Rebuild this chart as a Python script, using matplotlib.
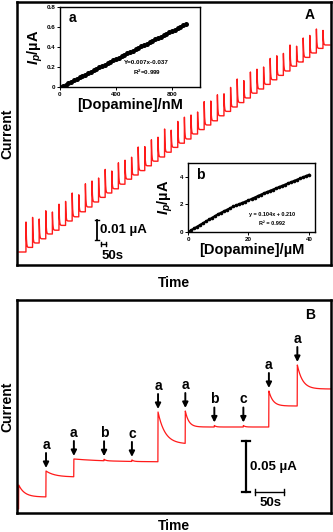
import numpy as np
import matplotlib
matplotlib.use("Agg")
import matplotlib.pyplot as plt

plt.rcParams['font.family'] = ['Liberation Sans', 'DejaVu Sans']
plt.rcParams['font.weight'] = 'bold'
plt.rcParams['axes.labelweight'] = 'bold'
plt.rcParams['mathtext.fontset'] = 'custom'
plt.rcParams['mathtext.it'] = 'Liberation Sans:bold:italic'
plt.rcParams['mathtext.rm'] = 'Liberation Sans:bold'

# ---- panel A: amperometric trace (current in nA) ----
base_nA = [6.5, 8.8, 11.0, 13.1, 15.5, 17.4, 19.8, 22.0, 24.1, 26.6, 29.0, 31.5,
           33.8, 36.0, 38.1, 40.4, 42.9, 45.0, 47.2, 49.6, 51.9, 54.0, 56.4, 58.8,
           60.9, 63.0, 65.5, 67.7, 70.0, 72.1, 74.6, 76.8, 79.0, 81.2, 83.5, 85.9,
           88.0, 90.3, 92.6, 94.8, 97.0, 99.4, 101.5, 103.8, 106.0, 108.3, 110.0]
spike_nA = [15, 15, 12, 14, 11, 13, 12, 14, 11, 14, 13, 12, 14, 11, 13, 12, 11, 14,
            12, 13, 12, 14, 11, 13, 13, 12, 11, 14, 12, 13, 11, 12, 14, 11, 13, 12,
            11, 13, 12, 11, 13, 10, 12, 11, 12, 9]
inject_start = 90   # s
inject_every = 66   # s

# inset a: low concentration calibration
conc_nM = [0, 20, 40, 60, 80, 100, 120, 140, 160, 180, 200, 220, 240, 260, 280, 300,
           320, 340, 360, 380, 400, 420, 440, 460, 480, 500, 520, 540, 560, 580, 600,
           620, 640, 660, 680, 700, 720, 740, 760, 780, 800, 820, 840, 860, 880, 900]
ip_a = [0.00, 0.01, 0.025, 0.04, 0.055, 0.07, 0.082, 0.097, 0.11, 0.125, 0.14, 0.153,
        0.168, 0.182, 0.196, 0.21, 0.224, 0.238, 0.252, 0.266, 0.28, 0.294, 0.308,
        0.322, 0.336, 0.35, 0.364, 0.378, 0.392, 0.406, 0.42, 0.434, 0.448, 0.462,
        0.476, 0.49, 0.504, 0.518, 0.532, 0.546, 0.56, 0.574, 0.588, 0.602, 0.616, 0.63]

# inset b: high concentration calibration
conc_uM = list(range(0, 41))
ip_b = [0.00, 0.13, 0.26, 0.39, 0.52, 0.65, 0.78, 0.91, 1.04, 1.17, 1.30, 1.41, 1.52,
        1.63, 1.74, 1.85, 1.94, 2.03, 2.12, 2.21, 2.30, 2.40, 2.50, 2.60, 2.70, 2.80,
        2.89, 2.98, 3.07, 3.16, 3.25, 3.34, 3.43, 3.52, 3.61, 3.70, 3.79, 3.88, 3.97,
        4.06, 4.15]

# ---- panel B: interference test ----
ev_t = [50, 98, 150, 198, 243, 290, 340, 390, 434, 483]
ev_lab = ['a', 'a', 'b', 'c', 'a', 'a', 'b', 'c', 'a', 'a']
seg_t0 = [3, 50, 98, 243, 290, 434, 483]
seg_peak = [0.028, 0.042, 0.054, 0.101, 0.102, 0.122, 0.148]
seg_end = [0.016, 0.036, 0.051, 0.069, 0.086, 0.107, 0.124]
seg_tau = [10, 15, 60, 12, 6, 7, 9]
bump_t = [150, 198, 340, 390]
bump_h = 0.0015

RED = '#ff1a1a'

fig = plt.figure(figsize=(3.33, 5.32), dpi=100)

# ---------------- panel A ----------------
axA = fig.add_axes([17/333, 1-265/532, 314/333, 263/532])
t = np.arange(20, 3130, 0.5)
base = np.array(base_nA) / 1000
spk = np.array(spike_nA) / 1000
y = np.full_like(t, base[0])
for k in range(len(spk)):
    t0 = inject_start + inject_every * k
    m = t >= t0
    pk = base[k] + spk[k]
    y[m] = base[k+1] + (pk - base[k+1]) * np.exp(-(t[m] - t0) / 4.0)
axA.plot(t, y, color=RED, lw=1.0)
axA.set_xlim(0, 3140)
axA.set_ylim(0, 0.1315)
axA.set_xticks([])
axA.set_yticks([])
for s in axA.spines.values():
    s.set_linewidth(1.8)
axA.text(0.933, 0.95, 'A', transform=axA.transAxes, ha='center', va='center', fontsize=10)
axA.set_ylabel('Current', fontsize=10, labelpad=2)
axA.set_xlabel('Time', fontsize=10, labelpad=8)

# scale bars A
axA.plot([800, 800], [0.0125, 0.0225], color='k', lw=1.3)
axA.plot([780, 820], [0.0225, 0.0225], color='k', lw=1.0)
axA.plot([780, 820], [0.0125, 0.0125], color='k', lw=1.0)
axA.text(830, 0.0175, '0.01 µA', fontsize=9.5, ha='left', va='center')
axA.plot([840, 890], [0.0105, 0.0105], color='k', lw=1.0)
axA.plot([840, 840], [0.0095, 0.0115], color='k', lw=1.0)
axA.plot([890, 890], [0.0095, 0.0115], color='k', lw=1.0)
axA.text(960, 0.0045, '50s', fontsize=9.5, ha='center', va='center')

# inset a
ia = fig.add_axes([60/333, 1-87/532, 140/333, 80/532])
ia.plot(conc_nM, ip_a, 'o', color='k', ms=3.6, mew=0)
ia.set_xlim(0, 1000)
ia.set_ylim(0, 0.8)
ia.set_xticks([0, 400, 800])
ia.set_yticks([0, 0.2, 0.4, 0.6, 0.8])
ia.set_yticklabels(['0', '0.2', '0.4', '0.6', '0.8'])
ia.tick_params(labelsize=4.5, length=2, width=0.7, pad=1.5)
for s in ia.spines.values():
    s.set_linewidth(1.0)
ia.set_xlabel('[Dopamine]/nM', fontsize=10.5, labelpad=1)
ia.set_ylabel(r'$I_p$/µA', fontsize=10.5, labelpad=1)
ia.text(0.09, 0.86, 'a', transform=ia.transAxes, fontsize=10, ha='center', va='center')
ia.text(0.62, 0.30, 'Y=0.007x-0.037', transform=ia.transAxes, fontsize=4.5, ha='center', va='center')
ia.text(0.62, 0.18, 'R$^2$=0.999', transform=ia.transAxes, fontsize=4.5, ha='center', va='center')

# inset b
ib = fig.add_axes([188/333, 1-232/532, 127/333, 69/532])
ib.plot(conc_uM, ip_b, 'o', color='k', ms=2.6, mew=0)
ib.plot(conc_uM, ip_b, color='k', lw=1.4)
ib.set_xlim(0, 42)
ib.set_ylim(0, 5)
ib.set_xticks([0, 20, 40])
ib.set_yticks([0, 2, 4])
ib.tick_params(labelsize=4.5, length=2, width=0.7, pad=1.5)
for s in ib.spines.values():
    s.set_linewidth(1.0)
ib.set_xlabel('[Dopamine]/µM', fontsize=10.5, labelpad=1)
ib.set_ylabel(r'$I_p$/µA', fontsize=10.5, labelpad=3)
ib.text(0.094, 0.83, 'b', transform=ib.transAxes, fontsize=10, ha='center', va='center')
ib.text(0.66, 0.25, 'y = 0.104x + 0.210', transform=ib.transAxes, fontsize=4, ha='center', va='center')
ib.text(0.66, 0.13, 'R² = 0.992', transform=ib.transAxes, fontsize=4, ha='center', va='center')

# ---------------- panel B ----------------
axB = fig.add_axes([17/333, 1-513/532, 314/333, 213/532])
tb = np.arange(0, 541, 0.25)
yb = np.full_like(tb, 0.004)
for t0, pk, en, tau in zip(seg_t0, seg_peak, seg_end, seg_tau):
    m = tb >= t0
    yb[m] = en + (pk - en) * np.exp(-(tb[m] - t0) / tau)
for t0 in bump_t:
    m = tb >= t0
    yb[m] += bump_h * np.exp(-(tb[m] - t0) / 3.0)
axB.plot(tb[tb >= 2], yb[tb >= 2], color=RED, lw=0.9)
axB.set_xlim(0, 541)
axB.set_ylim(0, 0.213)
axB.set_xticks([])
axB.set_yticks([])
for s in axB.spines.values():
    s.set_linewidth(1.8)
axB.text(0.933, 0.93, 'B', transform=axB.transAxes, ha='center', va='center', fontsize=10)
axB.set_ylabel('Current', fontsize=10, labelpad=2)
axB.set_xlabel('Time', fontsize=10, labelpad=4)

for te, lab in zip(ev_t, ev_lab):
    near = (tb >= te) & (tb <= te + 4)
    tip = yb[near].max() + 0.003
    tail = tip + 0.015
    axB.annotate('', xy=(te, tip), xytext=(te, tail),
                 arrowprops=dict(arrowstyle='-|>', color='k', lw=1.4, mutation_scale=8,
                                 shrinkA=0, shrinkB=0))
    axB.text(te, tail + 0.004, lab, fontsize=10, ha='center', va='baseline')

# scale bars B
axB.plot([395, 395], [0.021, 0.072], color='k', lw=1.6)
axB.plot([388, 402], [0.072, 0.072], color='k', lw=1.6)
axB.plot([388, 402], [0.021, 0.021], color='k', lw=1.6)
axB.text(402, 0.046, '0.05 µA', fontsize=9.5, ha='left', va='center')
axB.plot([410, 460], [0.021, 0.021], color='k', lw=1.0)
axB.plot([410, 410], [0.018, 0.024], color='k', lw=1.0)
axB.plot([460, 460], [0.018, 0.024], color='k', lw=1.0)
axB.text(436, 0.010, '50s', fontsize=9.5, ha='center', va='center')

fig.savefig('out.png', dpi=100)
